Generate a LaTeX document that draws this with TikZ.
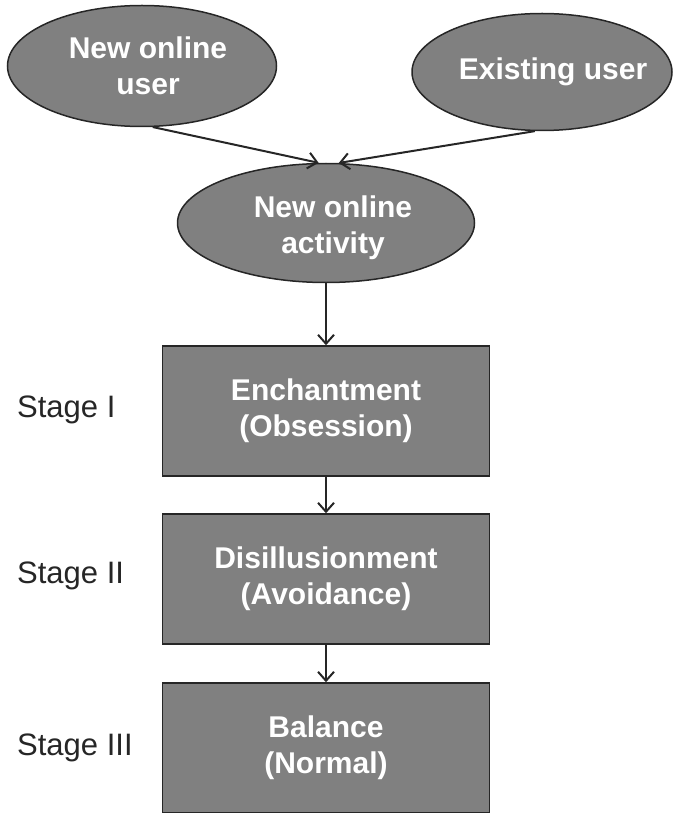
\documentclass[tikz,border=0pt]{standalone}
\usepackage{fontspec}
\setmainfont{Liberation Sans}
\usetikzlibrary{arrows.meta,shapes.geometric}

\begin{document}
\begin{tikzpicture}[x=1pt, y=-1pt,
  oval/.style={ellipse, draw=black!85, line width=1.5pt, fill=black!50, inner sep=0pt},
  ovaltext/.style={text=white, align=center, font=\fontsize{30}{36}\selectfont\bfseries},
  stagebox/.style={rectangle, draw=black!85, line width=1.5pt, fill=black!50, text=white, align=center,
    minimum width=327pt, minimum height=130pt, font=\fontsize{30}{36}\selectfont\bfseries},
  stagelabel/.style={anchor=west, inner sep=0pt, text=black!85, font=\fontsize{31}{36}\selectfont},
  flow/.style={-{Straight Barb[length=9pt, width=16pt]}, line width=2pt, black!85}]
\useasboundingbox (0,0) rectangle (675,813);
% users and activity
\node[oval, minimum width=269pt, minimum height=121pt] (newuser) at (142,66) {};
\node[ovaltext] (newusertext) at (148,66) {New online\\user};
\node[oval, minimum width=260pt, minimum height=117pt] (olduser) at (542,72) {};
\node[ovaltext] (oldusertext) at (553,72) {Existing user};
\node[oval, minimum width=297pt, minimum height=119pt] (activity) at (326,223) {};
\node[ovaltext] (activitytext) at (333,228) {New online\\activity};
% stages
\node[stagebox] (enchant) at (326,411) {Enchantment\\(Obsession)};
\node[stagebox] (disill) at (326,579) {Disillusionment\\(Avoidance)};
\node[stagebox] (balance) at (326,748) {Balance\\(Normal)};
\node[stagelabel] (stage1) at (17,410) {Stage I};
\node[stagelabel] (stage2) at (17,576) {Stage II};
\node[stagelabel] (stage3) at (17,748) {Stage III};
% arrows
\draw[flow] (newuser.280) -- (activity.97);
\draw[flow] (olduser.263) -- (activity.78);
\draw[flow] (activity) -- (enchant);
\draw[flow] (enchant) -- (disill);
\draw[flow] (disill) -- (balance);
\end{tikzpicture}
\end{document}
